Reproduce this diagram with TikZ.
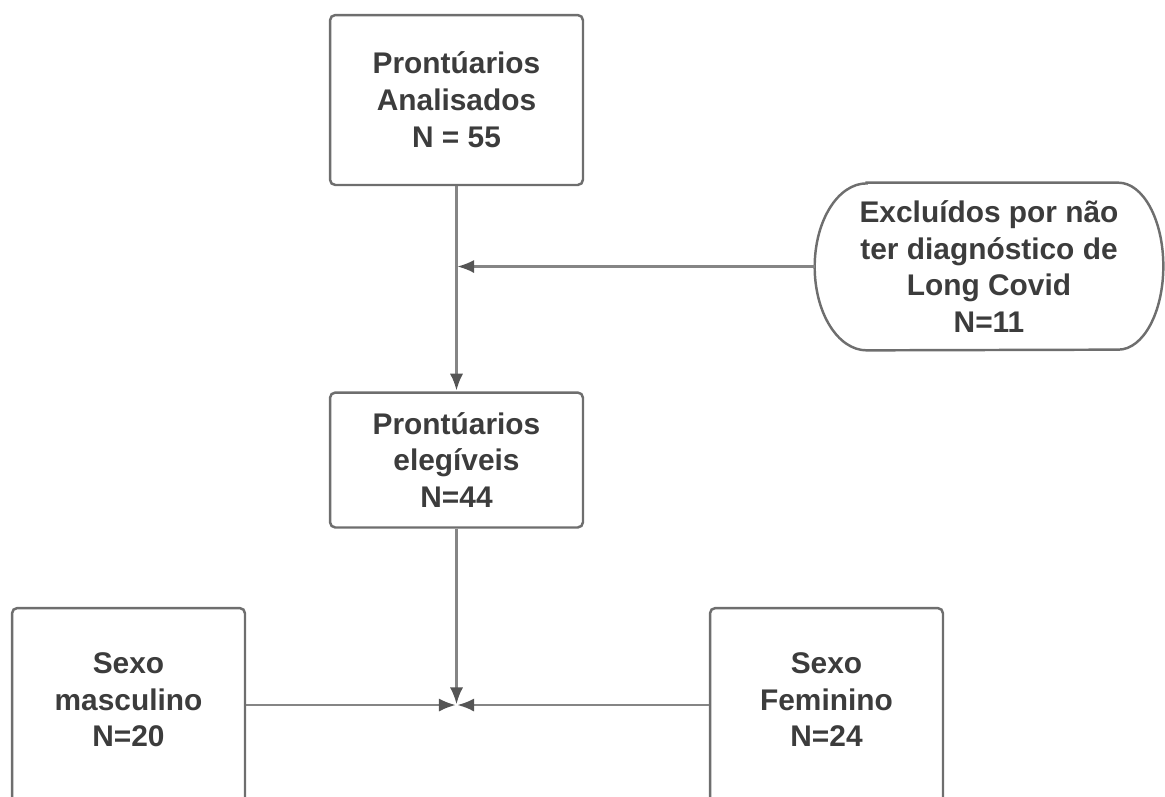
\documentclass[tikz,border=0pt]{standalone}
\usepackage{fontspec}
\setmainfont{Liberation Sans}
\usepackage{xcolor}
\usetikzlibrary{calc,arrows.meta}
\definecolor{txtgray}{HTML}{3C3C3C}
\definecolor{boxgray}{HTML}{6E6E6E}
\definecolor{linegray}{HTML}{858585}
\definecolor{tipgray}{HTML}{555555}
\tikzset{
	flowbox/.style={
			draw=boxgray, line width=1.4pt, rounded corners=3pt, align=center,
			text=txtgray, font=\bfseries\fontsize{17}{21}\selectfont
		},
	exclnode/.style={
			align=center, text=txtgray, font=\bfseries\fontsize{17}{21}\selectfont,
			minimum width=6.96cm, minimum height=3.34cm
		},
	conn/.style={
			draw=linegray, line width=1.25pt, -{Latex[length=9.5pt,width=7.5pt,color=tipgray]}, shorten >=0.5pt
		}
}

\begin{document}
\begin{tikzpicture}[x=0.02cm, y=-0.02cm]
			\path[use as bounding box, clip] (0,0) rectangle (1165,796);

			\node[flowbox, minimum width=5.06cm, minimum height=3.4cm] (analis) at (456.5,100) {Prontúarios\\Analisados\\N = 55};
			\node[flowbox, minimum width=5.06cm, minimum height=2.7cm] (eleg) at (456.5,460) {Prontúarios\\elegíveis\\N=44};
			\node[exclnode] (excl) at (989,266.5) {Excluídos por não\\ter diagnóstico de\\Long Covid\\N=11};
			\node[flowbox, minimum width=4.66cm, minimum height=4.4cm] (masc) at (128.5,718) {Sexo\\masculino\\N=20\\\mbox{}};
			\node[flowbox, minimum width=4.66cm, minimum height=4.4cm] (fem) at (826.5,718) {Sexo\\Feminino\\N=24\\\mbox{}};

			\draw[draw=boxgray, line width=1.4pt]
				([xshift=1.04cm]excl.north west) -- ([xshift=-0.9cm]excl.north east)
				arc[start angle=90, end angle=-90, x radius=0.9cm, y radius=1.67cm]
				-- ([xshift=1.04cm]excl.south west)
				arc[start angle=270, end angle=90, x radius=1.04cm, y radius=1.67cm] -- cycle;

			\coordinate (join) at (456.5,705);

			\draw[conn] (analis) -- (eleg);
			\draw[conn] (excl.west) -- (analis.south |- excl.west);
			\draw[conn] (eleg) -- (join);
			\draw[conn] (masc.east |- join) -- (join);
			\draw[conn] (fem.west |- join) -- (join);
		\end{tikzpicture}
\end{document}
